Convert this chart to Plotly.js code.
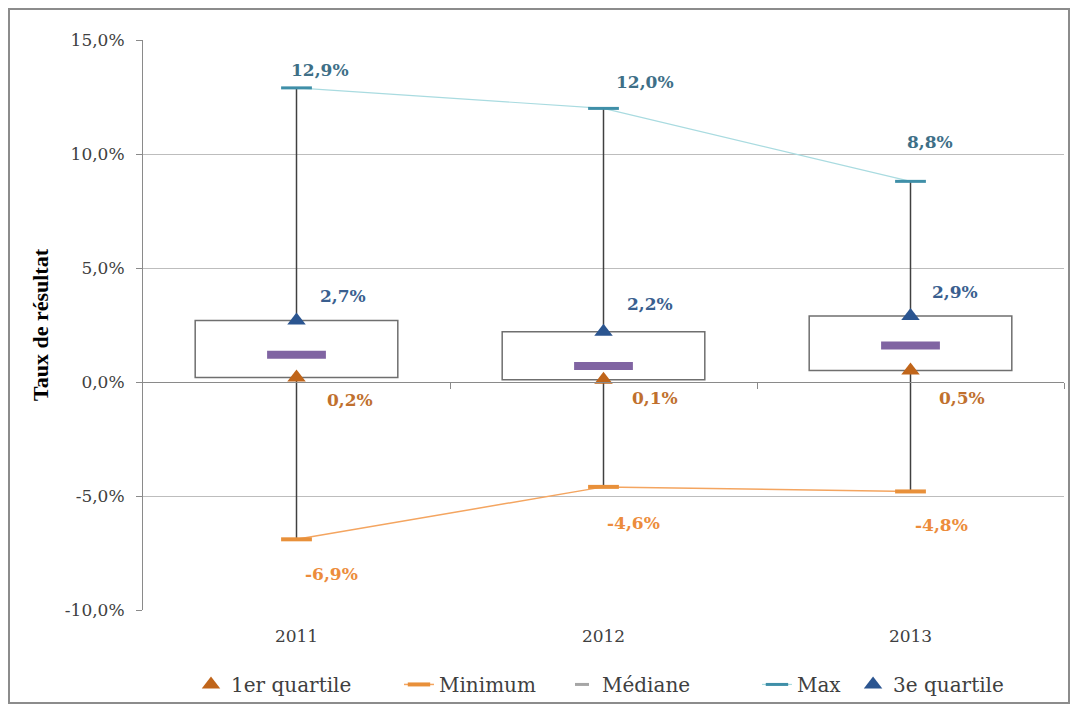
<!DOCTYPE html>
<html>
<head>
<meta charset="utf-8">
<script src="https://cdn.plot.ly/plotly-3.0.1.min.js"></script>
<style>
  html, body { margin: 0; padding: 0; background: #fff; }
  #chart { position: absolute; left: 0; top: 0; width: 1076px; height: 710px; }
  #frame { position: absolute; left: 8px; top: 8px; width: 1058px; height: 692px; border: 2px solid #8c8c8c; pointer-events: none; }
</style>
</head>
<body>
<div id="chart"></div>
<div id="frame"></div>
<script>
// ---- data ----
const years = ['2011', '2012', '2013'];
const q1 = [0.2, 0.1, 0.5];
const q3 = [2.7, 2.2, 2.9];
const minimum = [-6.9, -4.6, -4.8];
const maximum = [12.9, 12.0, 8.8];
const median = [1.2, 0.7, 1.6];
const yTicks = [-10, -5, 0, 5, 10, 15];

// ---- style (label offsets in pixels: right, up) ----
const maxOff = [[23, 18], [41, 26], [19, 39]];
const q3Off = [[46, 24], [46, 28], [44, 24]];
const q1Off = [[53, -23], [51, -18], [51, -27]];
const minOff = [[35, -35], [30, -36], [31, -34]];
// legend entry positions (container x)
const legendX = [0.1775, 0.3708, 0.5223, 0.7035, 0.7928];

const fmt = v => v.toFixed(1).replace('.', ',') + '\u0025';
const serif = 'DejaVu Serif, serif';

const boxTrace = {
  type: 'bar', x: years, base: q1, y: q3.map((v, i) => v - q1[i]),
  width: 0.66, marker: { color: '#ffffff', line: { color: '#6f6f6f', width: 1.5 } },
  showlegend: false, hoverinfo: 'skip'
};

const wx = [], wy = [];
years.forEach((yr, i) => {
  wx.push(yr, yr, null, yr, yr, null);
  wy.push(minimum[i], q1[i], null, q3[i], maximum[i], null);
});
const whisker = {
  type: 'scatter', mode: 'lines', x: wx, y: wy,
  line: { color: '#404040', width: 1.5 }, showlegend: false, hoverinfo: 'skip'
};

const maxTrace = {
  type: 'scatter', mode: 'lines+markers', name: 'Max', x: years, y: maximum, legend: 'legend4',
  line: { color: '#a9dbe0', width: 1.2 },
  marker: { symbol: 'line-ew', size: 22, color: '#3f8fa8', line: { color: '#3f8fa8', width: 3 } }
};
const minTrace = {
  type: 'scatter', mode: 'lines+markers', name: 'Minimum', x: years, y: minimum, legend: 'legend2',
  line: { color: '#f4a560', width: 1.5 },
  marker: { symbol: 'line-ew', size: 22, color: '#e8903a', line: { color: '#e8903a', width: 4 } }
};
const medTrace = {
  type: 'scatter', mode: 'markers', name: 'Médiane', x: years, y: median, showlegend: false,
  marker: { symbol: 'line-ew', size: 42, color: '#8064a2', line: { color: '#8064a2', width: 8 } }
};
const medLegend = {
  type: 'scatter', mode: 'markers', name: 'Médiane', x: [null], y: [null], legend: 'legend3',
  marker: { symbol: 'line-ew', size: 10, color: '#a6a6a6', line: { color: '#a6a6a6', width: 3 } }
};
const q1Trace = {
  type: 'scatter', mode: 'markers', name: '1er quartile', x: years, y: q1, legend: 'legend',
  marker: { symbol: 'triangle-up', size: 16, color: '#c0651a' }
};
const q3Trace = {
  type: 'scatter', mode: 'markers', name: '3e quartile', x: years, y: q3, legend: 'legend5',
  marker: { symbol: 'triangle-up', size: 16, color: '#2b5590' }
};

const annotations = [];
function addLabels(vals, offs, color) {
  vals.forEach((v, i) => {
    annotations.push({
      x: i, y: v, xref: 'x', yref: 'y', text: '<b>' + fmt(v) + '</b>', showarrow: false,
      xshift: offs[i][0], yshift: offs[i][1],
      font: { family: serif, size: 17, color: color }
    });
  });
}
addLabels(maximum, maxOff, '#3e6f87');
addLabels(q3, q3Off, '#3a5f8f');
addLabels(q1, q1Off, '#c0702e');
addLabels(minimum, minOff, '#ec8c3c');

const legendBase = {
  orientation: 'h', xref: 'container', yref: 'container', xanchor: 'left',
  y: 0.036, yanchor: 'middle',
  font: { family: serif, size: 20, color: '#404040' }, itemwidth: 30,
  bgcolor: 'rgba(0,0,0,0)'
};

const layout = {
  width: 1076, height: 710,
  margin: { l: 143, r: 12, t: 40, b: 100, autoexpand: false },
  paper_bgcolor: 'rgba(0,0,0,0)', plot_bgcolor: '#ffffff',
  showlegend: true,
  barmode: 'overlay',
  xaxis: {
    type: 'category', range: [-0.5, 2.5], showgrid: false, zeroline: false,
    showline: false, ticks: '', ticklabelstandoff: 14,
    tickfont: { family: serif, size: 17, color: '#404040' }
  },
  xaxis2: {
    overlaying: 'x', anchor: 'free', position: 0.4, range: [-0.5, 2.5],
    showgrid: false, zeroline: false, showline: true, linecolor: '#8a8a8a', linewidth: 1,
    tickvals: [0.5, 1.5, 2.5], ticks: 'outside', ticklen: 6, tickcolor: '#8a8a8a',
    showticklabels: false
  },
  yaxis: {
    range: [-10, 15], tickvals: yTicks, ticktext: yTicks.map(fmt),
    showgrid: true, gridcolor: '#bdbdbd', gridwidth: 1, zeroline: false,
    showline: true, linecolor: '#8a8a8a', linewidth: 1,
    ticks: 'outside', ticklen: 6, tickcolor: '#8a8a8a', ticklabelstandoff: 8,
    tickfont: { family: serif, size: 17, color: '#404040' },
    title: { text: '<b>Taux de résultat</b>', standoff: 10,
      font: { family: 'Liberation Serif, serif', size: 22, color: '#000' } }
  },
  legend: Object.assign({}, legendBase, { x: legendX[0] }),
  legend2: Object.assign({}, legendBase, { x: legendX[1] }),
  legend3: Object.assign({}, legendBase, { x: legendX[2] }),
  legend4: Object.assign({}, legendBase, { x: legendX[3] }),
  legend5: Object.assign({}, legendBase, { x: legendX[4] }),
  annotations: annotations
};

const dummyAxis2 = { type: 'scatter', mode: 'markers', x: [null], y: [null], xaxis: 'x2', yaxis: 'y', showlegend: false, hoverinfo: 'skip' };

Plotly.newPlot('chart', [boxTrace, whisker, maxTrace, minTrace, medTrace, medLegend, q1Trace, q3Trace, dummyAxis2], layout, { displayModeBar: false, staticPlot: true });
</script>
</body>
</html>
